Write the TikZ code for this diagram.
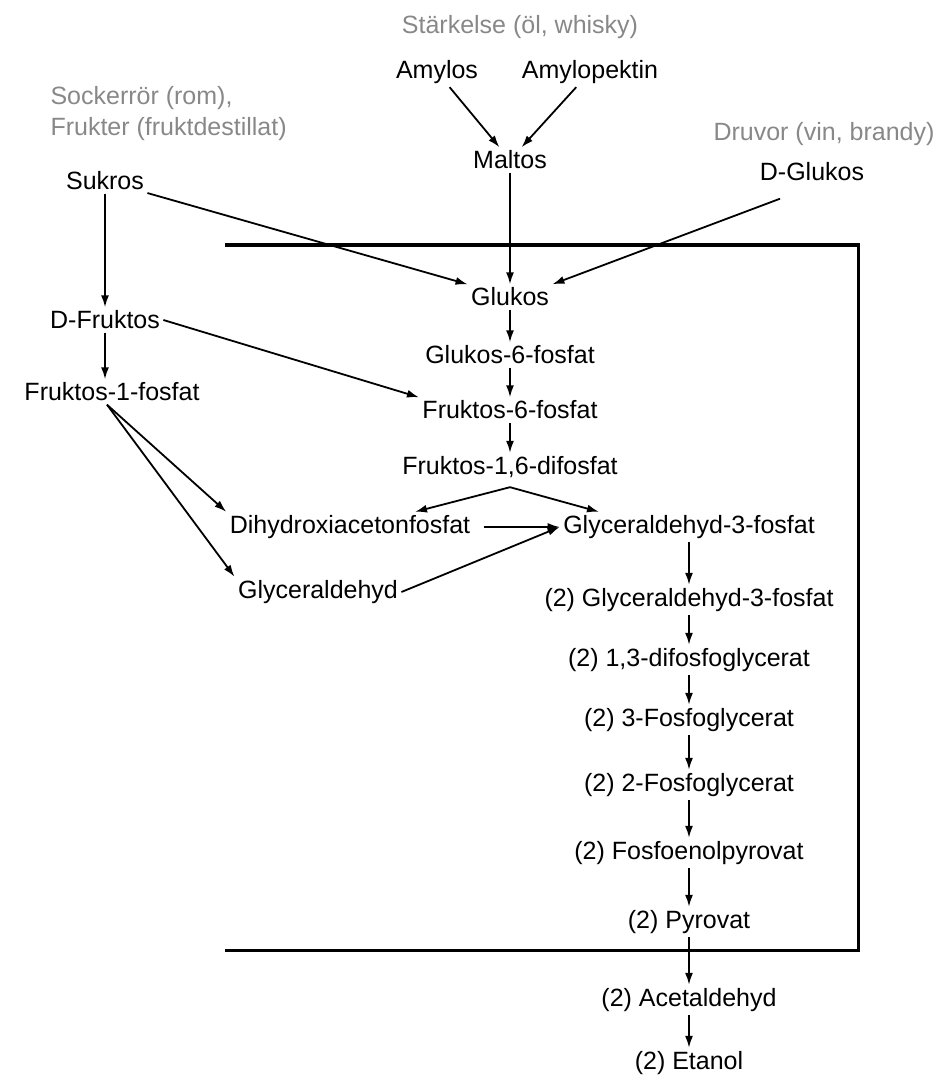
\documentclass[tikz,border=0pt]{standalone}
\usepackage{fontspec}
\setmainfont{Liberation Sans}
\usetikzlibrary{arrows.meta}
\definecolor{srcgray}{RGB}{136,136,136}

\begin{document}
\begin{tikzpicture}[x=1pt,y=-1pt,
    every node/.style={font=\fontsize{25}{31}\selectfont},
    source/.style={text=srcgray},
    step arrow/.style={->,line width=1.8pt}]

\tikzset{>={Latex[length=12pt,width=8pt]}}
\def\midX{510}
\def\chainX{689}
\def\leftX{105}

\useasboundingbox (0,0) rectangle (933,1075);

% raw materials
\node[source] (starch) at (520,27) {Stärkelse (öl, whisky)};
\node[source,anchor=west,align=left] (cane) at (47,114) {Sockerrör (rom),\\Frukter (fruktdestillat)};
\node[source] (grapes) at (824,134) {Druvor (vin, brandy)};

\node (amylos) at (437,72) {Amylos};
\node (amylopektin) at (590,72) {Amylopektin};
\node (maltos) at (\midX,160) {Maltos};
\node (dglukos) at (812,172) {D-Glukos};
\node (sukros) at (\leftX,181) {Sukros};

% glycolysis box
\draw[line width=3pt] (225,245) -| (858,950) -- (225,950);

\node (glukos) at (\midX,297) {Glukos};
\node (dfruktos) at (\leftX,320) {D-Fruktos};
\node (g6p) at (\midX,355) {Glukos-6-fosfat};
\node (f1p) at (112,392) {Fruktos-1-fosfat};
\node (f6p) at (\midX,410) {Fruktos-6-fosfat};
\node (f16dp) at (\midX,467) {Fruktos-1,6-difosfat};
\coordinate (split) at ([yshift=-6pt]f16dp.south);

\node (dhap) at (350,527) {Dihydroxiacetonfosfat};
\node (gap) at (\chainX,527) {Glyceraldehyd-3-fosfat};
\node (glyc) at (318,592) {Glyceraldehyd};

\node (gap2) at (\chainX,600) {(2) Glyceraldehyd-3-fosfat};
\node (dpg) at (\chainX,660) {(2) 1,3-difosfoglycerat};
\node (pg3) at (\chainX,720) {(2) 3-Fosfoglycerat};
\node (pg2) at (\chainX,785) {(2) 2-Fosfoglycerat};
\node (pep) at (\chainX,853) {(2) Fosfoenolpyrovat};
\node (pyr) at (\chainX,922) {(2) Pyrovat};
\node (acet) at (\chainX,1000) {(2) Acetaldehyd};
\node (etanol) at (\chainX,1063) {(2) Etanol};

% arrows
\draw[step arrow] (amylos) -- (maltos);
\draw[step arrow] (amylopektin) -- (maltos);
\draw[step arrow] (maltos) -- (glukos);
\draw[step arrow] (sukros) -- (glukos.north west);
\draw[step arrow] ([xshift=-32pt,yshift=-14pt]dglukos.south) -- (glukos.north east);
\draw[step arrow] (sukros) -- (dfruktos);
\draw[step arrow] (dfruktos.south) -- (dfruktos.south |- f1p.north);
\draw[step arrow] (dfruktos.east) -- (f6p.north west);
\draw[step arrow] (glukos) -- (g6p);
\draw[step arrow] (g6p) -- (f6p);
\draw[step arrow] (f6p) -- (f16dp);
\draw[step arrow] (split) -- ([xshift=65pt]dhap.north);
\draw[step arrow] (split) -- ([xshift=-90pt]gap.north);
\draw[step arrow] ([xshift=-5pt]f1p.south) -- (dhap.north west);
\draw[step arrow] ([xshift=-5pt]f1p.south) -- (glyc.north west);
\draw[step arrow,shorten <=10pt] (dhap) -- (gap);
\draw[step arrow] (glyc.east) -- (gap.west);

\draw[step arrow] (gap) -- (gap2);
\draw[step arrow] (gap2) -- (dpg);
\draw[step arrow] (dpg) -- (pg3);
\draw[step arrow] (pg3) -- (pg2);
\draw[step arrow] (pg2) -- (pep);
\draw[step arrow] (pep) -- (pyr);
\draw[step arrow] (pyr) -- (acet);
\draw[step arrow] (acet) -- (etanol);

\end{tikzpicture}
\end{document}
